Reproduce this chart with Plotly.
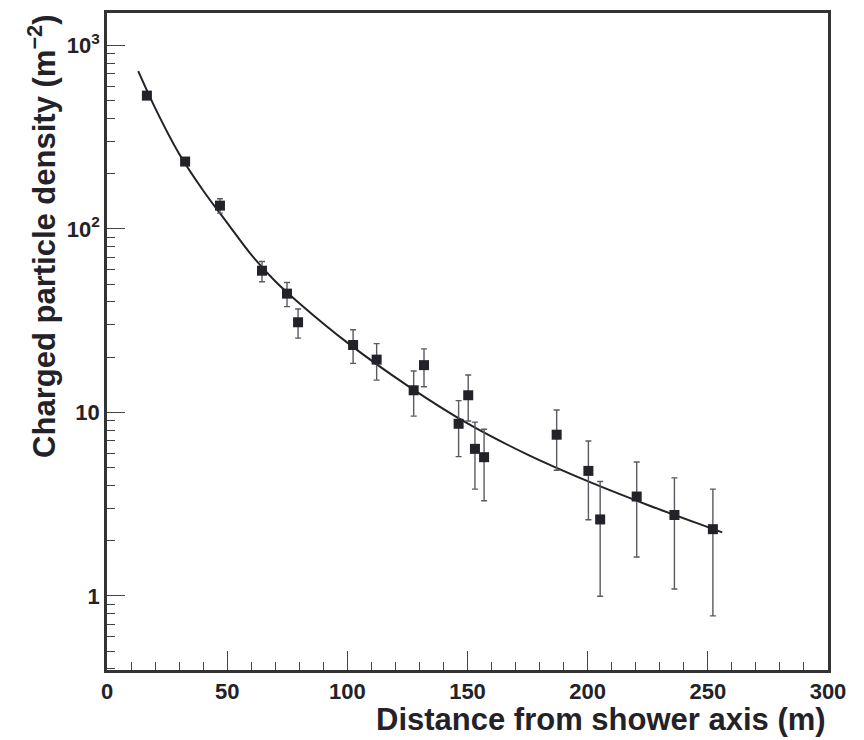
import plotly.graph_objects as go

# Measured points
dist = [16.6, 32.5, 47.0, 64.5, 74.9, 79.5, 102.4, 112.2, 127.6, 131.9,
        146.3, 150.3, 153.1, 156.9, 187.1, 200.3, 205.2, 220.4, 236.1, 252.1]
density = [533, 233, 134, 59.2, 44.4, 31.0, 23.3, 19.4, 13.2, 18.1,
           8.67, 12.4, 6.33, 5.70, 7.56, 4.80, 2.61, 3.48, 2.76, 2.31]
err_hi = [552, 240, 146, 66.5, 51.1, 36.6, 28.2, 23.7, 16.8, 22.2,
          11.6, 16.0, 8.85, 8.09, 10.3, 6.98, 4.20, 5.37, 4.40, 3.82]
err_lo = [515, 226, 122, 51.5, 37.7, 25.4, 18.5, 15.0, 9.55, 13.8,
          5.74, 8.97, 3.82, 3.30, 4.84, 2.60, 0.995, 1.63, 1.09, 0.778]

# Fit curve
fit_x = [13, 20, 30, 40, 50, 60, 70, 80, 100, 125, 150, 175, 200, 225, 250, 256]
fit_y = [724, 457, 257, 162, 108, 72.4, 51.9, 39.4, 24.0, 14.0, 8.71, 5.89, 4.22, 3.13, 2.37, 2.22]

y_major = [1, 10, 100, 1000]
y_major_text = ["1", "10", "10<sup>2</sup>", "10<sup>3</sup>"]
y_minor = [0.4, 0.5, 0.6, 0.7, 0.8, 0.9, 2, 3, 4, 5, 6, 7, 8, 9,
           20, 30, 40, 50, 60, 70, 80, 90, 200, 300, 400, 500, 600, 700, 800, 900]

plus = [h - d for h, d in zip(err_hi, density)]
minus = [d - l for d, l in zip(density, err_lo)]

ink = "#222228"
fig = go.Figure()
fig.add_trace(go.Scatter(
    x=fit_x, y=fit_y, mode="lines", line=dict(color=ink, width=2, shape="spline"),
    showlegend=False, hoverinfo="skip"))
fig.add_trace(go.Scatter(
    x=dist, y=density, mode="markers",
    marker=dict(symbol="square", size=10, color=ink),
    error_y=dict(type="data", symmetric=False, array=plus, arrayminus=minus,
                 color="#5a5a60", thickness=1.4, width=3),
    showlegend=False))

font_family = "Liberation Sans, Arial, sans-serif"
fig.update_layout(
    width=864, height=740,
    margin=dict(l=107, r=36, t=10, b=70),
    paper_bgcolor="white", plot_bgcolor="white",
    font=dict(family=font_family, color=ink),
    xaxis=dict(
        range=[0, 300], tickmode="linear", tick0=0, dtick=50,
        ticks="inside", ticklen=19, tickwidth=1.2, tickcolor="#444",
        minor=dict(dtick=10, ticks="inside", ticklen=8, tickwidth=1.2, tickcolor="#444"),
        showgrid=False, zeroline=False,
        showline=True, linecolor="#333", linewidth=2.5, mirror=True,
        tickfont=dict(size=22, weight="bold", family=font_family, color=ink),
    ),
    yaxis=dict(
        type="log", range=[-0.404, 3.177],
        tickmode="array", tickvals=y_major, ticktext=y_major_text,
        ticks="inside", ticklen=18, tickwidth=1.2, tickcolor="#444",
        minor=dict(tickmode="array", tickvals=y_minor, ticks="inside", ticklen=8,
                   tickwidth=1.2, tickcolor="#444", showgrid=False),
        showgrid=False, zeroline=False,
        showline=True, linecolor="#333", linewidth=2.5, mirror=True,
        tickfont=dict(size=22, weight="bold", family=font_family, color=ink),
    ),
    annotations=[
        dict(text="Distance from shower axis (m)", xref="paper", yref="paper",
             x=1.0, y=-0.045, xanchor="right", yanchor="top", showarrow=False,
             font=dict(size=31, weight="bold", family=font_family, color=ink)),
        dict(text="Charged particle density (m<sup>\u22122</sup>)", xref="paper", yref="paper",
             x=-0.091, y=1.0, xanchor="center", yanchor="top", textangle=-90, showarrow=False,
             font=dict(size=31, weight="bold", family=font_family, color=ink)),
    ],
)

fig.write_html("out.html")
